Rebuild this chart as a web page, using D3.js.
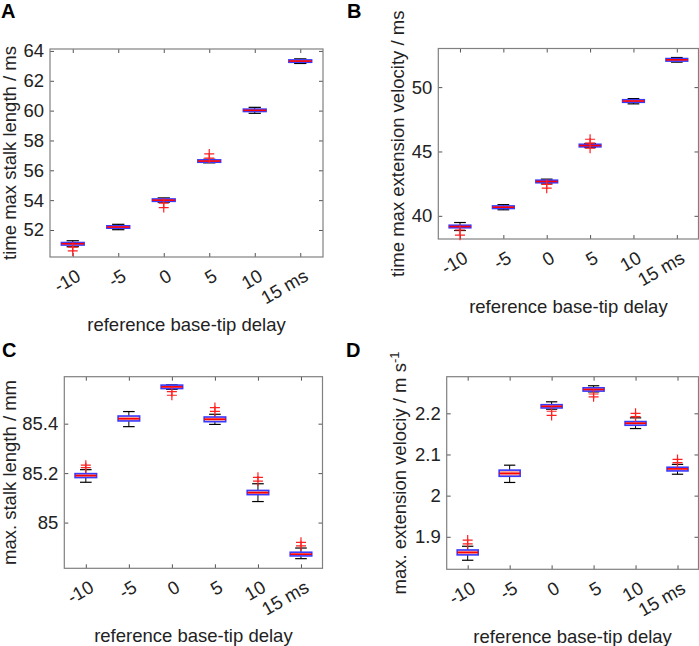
<!DOCTYPE html>
<html>
<head>
<meta charset="utf-8">
<script src="https://cdn.jsdelivr.net/npm/d3@7"></script>
<style>
  body { margin: 0; background: #fff; }
  svg { display: block; font-family: "Liberation Sans", Arial, sans-serif; }
</style>
</head>
<body>
<div id="chart"></div>
<script>
// delays (x categories) shared by all panels
const delays = [-10, -5, 0, 5, 10, 15];
const delayLabels = ["-10", "-5", "0", "5", "10", "15 ms"];

// A: time of max stalk length / ms
const medA = [51.08, 52.2, 54.0, 56.62, 60.02, 63.32];
const q1A = [50.99, 52.12, 53.92, 56.54, 59.94, 63.24];
const q3A = [51.16, 52.28, 54.08, 56.7, 60.1, 63.4];
const loA = [50.88, 52.02, 53.86, 56.5, 59.82, 63.16];
const hiA = [51.28, 52.38, 54.15, 56.74, 60.22, 63.47];
const outA = [[50.85, 50.6], [], [53.8, 53.5], [56.82, 57.1], [], []];
const ticksA = [52, 54, 56, 58, 60, 62, 64];

// B: time of max extension velocity / ms
const medB = [39.17, 40.67, 42.67, 45.46, 48.92, 52.12];
const q1B = [39.07, 40.57, 42.57, 45.36, 48.82, 52.02];
const q3B = [39.27, 40.77, 42.77, 45.56, 49.02, 52.22];
const loB = [38.86, 40.47, 42.48, 45.3, 48.7, 51.94];
const hiB = [39.48, 40.87, 42.85, 45.62, 49.11, 52.3];
const outB = [[38.9, 38.5], [], [42.45, 42.15], [45.25, 45.65, 45.95], [], []];
const ticksB = [40, 45, 50];

// C: max stalk length / mm
const medC = [85.19, 85.42, 85.549, 85.418, 85.121, 84.872];
const q1C = [85.182, 85.411, 85.542, 85.408, 85.113, 84.865];
const q3C = [85.198, 85.431, 85.556, 85.427, 85.13, 84.88];
const loC = [85.163, 85.388, 85.539, 85.397, 85.085, 84.854];
const hiC = [85.214, 85.449, 85.557, 85.438, 85.157, 84.897];
const outC = [[85.222, 85.232], [], [85.53, 85.515], [85.45, 85.465], [85.168, 85.183], [84.906, 84.92]];
const ticksC = [85, 85.2, 85.4];

// D: max extension velocity / m s-1
const medD = [1.862, 2.054, 2.217, 2.258, 2.176, 2.065];
const q1D = [1.856, 2.047, 2.213, 2.254, 2.171, 2.06];
const q3D = [1.868, 2.062, 2.221, 2.262, 2.18, 2.069];
const loD = [1.843, 2.032, 2.21, 2.252, 2.163, 2.052];
const hiD = [1.877, 2.074, 2.228, 2.267, 2.189, 2.076];
const outD = [[1.883, 1.892], [], [2.205, 2.195], [2.247, 2.24], [2.192, 2.2], [2.08, 2.088]];
const ticksD = [1.9, 2, 2.1, 2.2];

const W = 699, H = 646;
const FS = 18.5;
const svg = d3.select('#chart').append('svg')
  .attr('width', W).attr('height', H);

const panels = [
  { letter: 'A', lx: 1, ly: 18, box: [50, 49, 323, 257], ydom: [50.19, 64.13], ticks: ticksA,
    med: medA, q1: q1A, q3: q3A, lo: loA, hi: hiA, out: outA,
    ylabel: 'time max stalk length / ms', ylx: 16 },
  { letter: 'B', lx: 347, ly: 18, box: [438.3, 48.5, 698.5, 239], ydom: [38.2, 53.0], ticks: ticksB,
    med: medB, q1: q1B, q3: q3B, lo: loB, hi: hiB, out: outB,
    ylabel: 'time max extension velocity / ms', ylx: 404 },
  { letter: 'C', lx: 2, ly: 357, box: [64.3, 376.7, 322.5, 568.3], ydom: [84.815, 85.59], ticks: ticksC,
    med: medC, q1: q1C, q3: q3C, lo: loC, hi: hiC, out: outC,
    ylabel: 'max. stalk length / mm', ylx: 16 },
  { letter: 'D', lx: 346, ly: 357, box: [446.7, 376.7, 698.5, 569.3], ydom: [1.821, 2.289], ticks: ticksD,
    med: medD, q1: q1D, q3: q3D, lo: loD, hi: hiD, out: outD,
    ylabel: 'max. extension velociy / m s', sup: '-1', ylx: 406 }
];

panels.forEach(p => {
  const [x0, y0, x1, y1] = p.box;
  const x = d3.scaleLinear().domain([-12.5, 17.5]).range([x0, x1]);
  const y = d3.scaleLinear().domain(p.ydom).range([y1, y0]);
  const step = x(5) - x(0);
  const g = svg.append('g');

  // panel letter
  svg.append('text').attr('x', p.lx).attr('y', p.ly)
    .attr('font-size', 20).attr('font-weight', 'bold').attr('fill', '#000')
    .text(p.letter);

  // axes with inward ticks, all four sides
  const axisColor = '#808080';
  const bottom = g.append('g').attr('transform', `translate(0,${y1})`)
    .call(d3.axisBottom(x).tickValues(delays).tickSizeInner(-4).tickSizeOuter(0).tickFormat(''));
  const top = g.append('g').attr('transform', `translate(0,${y0})`)
    .call(d3.axisTop(x).tickValues(delays).tickSizeInner(-4).tickSizeOuter(0).tickFormat(''));
  const left = g.append('g').attr('transform', `translate(${x0},0)`)
    .call(d3.axisLeft(y).tickValues(p.ticks).tickSizeInner(-4).tickSizeOuter(0).tickPadding(6)
      .tickFormat(d => String(d)));
  const right = g.append('g').attr('transform', `translate(${x1},0)`)
    .call(d3.axisRight(y).tickValues(p.ticks).tickSizeInner(-4).tickSizeOuter(0).tickFormat(''));
  [bottom, top, left, right].forEach(a => {
    a.selectAll('path.domain').remove();
    a.selectAll('line').attr('stroke', '#555');
  });
  left.selectAll('text').attr('font-size', FS).attr('fill', '#222')
    .attr('font-family', '"Liberation Sans", Arial, sans-serif');

  g.append('rect').attr('x', x0).attr('y', y0).attr('width', x1 - x0).attr('height', y1 - y0)
    .attr('fill', 'none').attr('stroke', axisColor).attr('stroke-width', 1.2);

  // rotated x tick labels
  g.selectAll('.xl').data(delays).enter().append('text')
    .attr('transform', d => `translate(${x(d) + 6},${y1 + 17}) rotate(-30)`)
    .attr('text-anchor', 'end').attr('dy', '0.35em')
    .attr('font-size', FS).attr('fill', '#222')
    .text((d, i) => delayLabels[i]);

  // x label
  g.append('text').attr('x', (x0 + x1) / 2).attr('y', y1 + 74)
    .attr('text-anchor', 'middle').attr('font-size', FS).attr('fill', '#222')
    .text('reference base-tip delay');

  // y label
  const yl = g.append('text')
    .attr('transform', `translate(${p.ylx},${(y0 + y1) / 2}) rotate(-90)`)
    .attr('text-anchor', 'middle').attr('font-size', FS).attr('fill', '#222')
    .text(p.ylabel);
  if (p.sup) yl.append('tspan').attr('dy', -7).attr('font-size', 13).text(p.sup);

  // boxes
  const boxW = step * 0.5, capW = step * 0.27;
  delays.forEach((d, i) => {
    const cx = x(d);
    // whiskers
    g.append('line').attr('x1', cx).attr('x2', cx).attr('y1', y(p.hi[i])).attr('y2', y(p.q3[i]))
      .attr('stroke', '#000').attr('stroke-width', 1);
    g.append('line').attr('x1', cx).attr('x2', cx).attr('y1', y(p.lo[i])).attr('y2', y(p.q1[i]))
      .attr('stroke', '#000').attr('stroke-width', 1);
    [p.hi[i], p.lo[i]].forEach(v => {
      g.append('line').attr('x1', cx - capW / 2).attr('x2', cx + capW / 2)
        .attr('y1', y(v)).attr('y2', y(v)).attr('stroke', '#000').attr('stroke-width', 1.2);
    });
    g.append('rect').attr('x', cx - boxW / 2).attr('width', boxW)
      .attr('y', y(p.q3[i])).attr('height', Math.max(1, y(p.q1[i]) - y(p.q3[i])))
      .attr('fill', '#f2aaa4').attr('stroke', '#3a3aff').attr('stroke-width', 1.6);
    g.append('line').attr('x1', cx - boxW / 2).attr('x2', cx + boxW / 2)
      .attr('y1', y(p.med[i])).attr('y2', y(p.med[i]))
      .attr('stroke', '#ff0000').attr('stroke-width', 1.6);
    // outliers
    p.out[i].forEach(v => {
      const oy = y(v), s = 5;
      g.append('path').attr('d', `M${cx - s},${oy}H${cx + s}M${cx},${oy - s}V${oy + s}`)
        .attr('stroke', '#ff2020').attr('stroke-width', 1.2).attr('fill', 'none');
    });
  });
});
</script>
</body>
</html>
